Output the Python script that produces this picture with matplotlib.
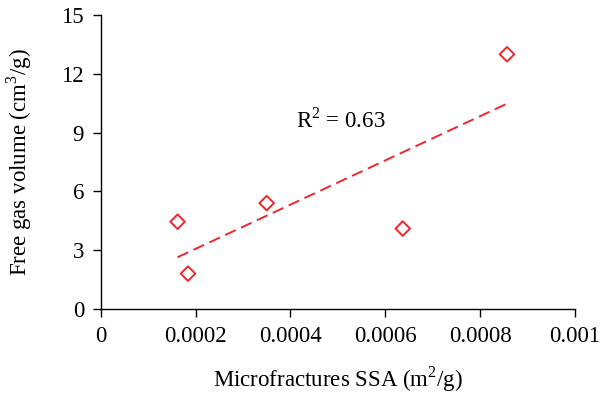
import matplotlib.pyplot as plt
import numpy as np

# Microfractures SSA (m2/g) vs free gas volume (cm3/g)
ssa = [0.000162, 0.000184, 0.000350, 0.000637, 0.000857]
gas_volume = [4.45, 1.8, 5.4, 4.1, 13.0]
r_squared = 0.63
x_ticks = [0, 0.0002, 0.0004, 0.0006, 0.0008, 0.001]
x_tick_labels = ['0', '0.0002', '0.0004', '0.0006', '0.0008', '0.001']
y_ticks = [0, 3, 6, 9, 12, 15]


def main():
    plt.rcParams['font.family'] = ['Liberation Serif', 'DejaVu Serif']
    plt.rcParams['font.size'] = 16.5
    plt.rcParams['mathtext.fontset'] = 'custom'
    plt.rcParams['mathtext.rm'] = 'Liberation Serif'

    fig = plt.figure(figsize=(6, 3.97), dpi=100)
    ax = fig.add_axes([0.168, 0.222, 0.79, 0.740])

    red = '#f0262b'
    ax.scatter(ssa, gas_volume, marker='D', s=55, facecolors='none',
               edgecolors=red, linewidths=1.4, zorder=3)

    # linear trend line
    x = np.array(ssa)
    y = np.array(gas_volume)
    slope, intercept = np.polyfit(x, y, 1)
    xs = np.array([x.min(), x.max()])
    ax.plot(xs, slope * xs + intercept, color=red, linestyle=(0, (6, 3)),
            linewidth=1.4)
    ax.text(0.000411, 9.64, f'R$^2$ = {r_squared:.2f}', ha='left', va='center')

    ax.set_xlim(0, 0.001)
    ax.set_ylim(0, 15)
    ax.set_xticks(x_ticks)
    ax.set_xticklabels(x_tick_labels)
    ax.set_yticks(y_ticks)

    for side in ['top', 'right']:
        ax.spines[side].set_visible(False)
    for side in ['left', 'bottom']:
        ax.spines[side].set_linewidth(1.0)
    ax.tick_params(direction='out', length=6, width=1.0, pad=6)

    ax.set_xlabel('Microfractures SSA (m$^2$/g)', labelpad=13)
    ax.set_ylabel('Free gas volume (cm$^3$/g)', labelpad=20)

    fig.savefig('out.png', dpi=100)


if __name__ == "__main__":
    main()
